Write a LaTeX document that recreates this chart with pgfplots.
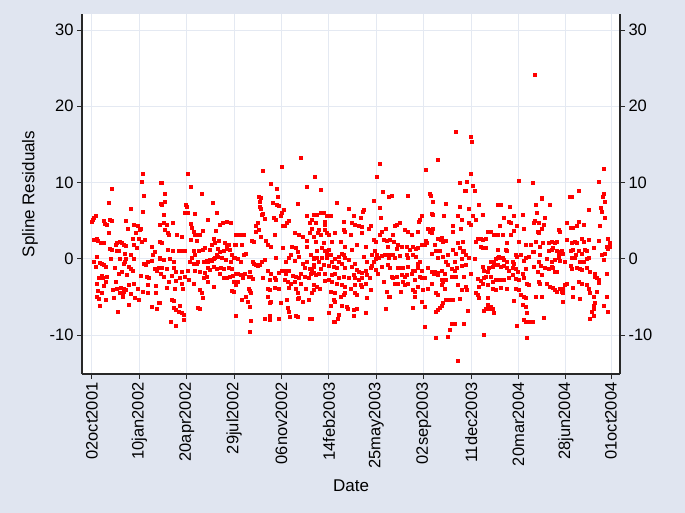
\documentclass[border=0pt]{standalone}
\usepackage{pgfplots}
\pgfplotsset{compat=1.18}
\usepackage{fontspec}
\setmainfont{Liberation Sans}
\definecolor{bgblue}{RGB}{224,229,240}
\definecolor{gridc}{RGB}{228,233,242}
\definecolor{axc}{RGB}{40,40,40}

% x = days since 02oct2001, y = spline residual
\pgfplotsset{
  resaxis/.style={
    at={(82pt,139pt)}, anchor=south west, scale only axis,
    width=538pt, height=360pt,
    xmin=-21, xmax=1114, ymin=-15.1, ymax=32.1,
    ytick={-10,0,10,20,30},
    tick align=outside, major tick length=5pt,
    tick style={axc, line width=1pt},
    axis line style={axc, line width=1.1pt},
    /pgf/number format/assume math mode=true,
    tick label style={font=\fontsize{16.5}{18}\selectfont},
  }
}

\begin{document}
\begin{tikzpicture}[x=1pt,y=1pt]
\fill[bgblue] (0,0) rectangle (685,513);
\begin{axis}[
    resaxis,
    axis background/.style={fill=white},
    axis x line*=bottom, axis y line*=left,
    xtick={0,100,200,300,400,500,600,700,800,900,1000,1095},
    xticklabels={02oct2001,10jan2002,20apr2002,29jul2002,06nov2002,14feb2003,
      25may2003,02sep2003,11dec2003,20mar2004,28jun2004,01oct2004},
    xticklabel style={rotate=90, anchor=east},
    grid=major,
    major grid style={gridc, line width=1pt},
    xlabel={Date}, ylabel={Spline Residuals},
    every axis y label/.style={at={(axis description cs:-0.0967,0.5)}, rotate=90,
      anchor=center, font=\fontsize{17}{19}\selectfont},
    every axis x label/.style={at={(axis description cs:0.5,-0.311)},
      anchor=center, font=\fontsize{17}{19}\selectfont},
  ]
  \addplot[only marks, mark=square*, mark size=1.5pt, color=red] coordinates {
    % 0 - 150
    (107,11.2) (105,10.1) (110,8.3) (42,9.2) (35,7.4) (82,6.6) (107,6.2) (146,10.0) (144,7.2)
    (8,5.7) (4,5.4) (0,4.9) (2,5.1) (24,5.0) (27,4.6) (32,4.5) (37,5.1) (42,5.0) (35,3.4)
    (72,5.0) (75,4.0) (89,4.5) (96,4.3) (92,3.4) (101,3.8) (103,4.0) (86,2.7) (99,2.6) (104,2.3)
    (112,2.5) (89,1.8) (94,1.4) (10,2.6) (13,2.4) (4,2.5) (18,2.1) (25,2.1) (53,2.1) (50,1.8)
    (58,2.3) (62,2.1) (66,1.8) (71,1.7) (38,1.3) (41,1.2) (53,1.0) (57,1.1) (69,0.7) (82,0.6)
    (126,1.6) (133,0.9) (129,0.6) (72,0) (89,0) (58,0) (39,0) (11,0.3) (4,-0.4) (8,-1.0)
    (16,-0.5) (20,-0.7) (25,-0.8) (29,-1.0) (66,-0.6) (69,-0.4) (77,-1.0) (110,-0.6) (113,-0.8)
    (118,-0.4) (127,-0.3) (132,-1.3) (136,-1.6) (143,0) (141,-1.2) (146,-1.9) (82,-1.3) (85,-1.5)
    (73,-2.1) (63,-1.7) (57,-1.9) (48,-1.1) (20,-2.2) (23,-2.5) (31,-2.4) (15,-2.5) (10,-3.2)
    (29,-3.0) (25,-3.5) (50,-3.0) (60,-3.8) (68,-3.9) (78,-3.4) (89,-3.2) (96,-3.9) (103,-2.2)
    (115,-2.3) (120,-2.5) (117,-3.4) (134,-3.5) (13,-4.2) (20,-4.5) (43,-4.1) (53,-3.9) (59,-4.5)
    (64,-4.6) (66,-4.3) (72,-4.1) (82,-4.6) (91,-5.1) (98,-5.4) (106,-4.3) (117,-4.5) (134,-4.5)
    (10,-5.0) (15,-5.2) (30,-5.4) (46,-5.1) (64,-5.0) (78,-6.0) (127,-6.3) (136,-6.6) (17,-6.1)
    (55,-6.9) (141,-5.8)
    % 150 - 305
    (202,11.1) (208,9.5) (231,8.5) (147,10.0) (154,8.5) (154,7.5) (147,7.1) (151,5.8) (198,7.1)
    (200,6.8) (196,6.0) (203,6.0) (216,5.9) (254,7.3) (264,6.1) (244,5.1) (143,4.5) (151,4.7)
    (158,4.5) (170,4.7) (154,3.8) (159,3.4) (161,3.2) (179,3.1) (189,2.9) (208,4.6) (210,4.1)
    (214,3.6) (216,3.2) (221,3.1) (228,3.1) (233,3.7) (262,3.7) (270,4.5) (276,4.8) (284,4.9)
    (293,4.8) (304,3.2) (143,2.3) (147,2.1) (208,2.5) (222,2.4) (233,1.2) (238,1.4) (256,2.6)
    (259,2.1) (268,2.4) (252,1.8) (281,2.1) (288,1.9) (284,1.6) (302,1.8) (159,1.2) (170,1.0)
    (184,1.1) (189,1.0) (196,1.0) (214,1.1) (217,0.6) (226,1.0) (249,1.2) (266,1.3) (270,0.9)
    (277,1.1) (284,1.3) (290,1.2) (295,0.5) (302,0.1) (143,0.1) (151,-0.1) (165,0) (173,-0.4)
    (210,0.2) (207,-0.4) (214,-0.6) (221,-0.7) (224,-0.4) (235,-0.4) (242,-0.3) (245,-0.4)
    (249,-0.1) (252,-0.3) (256,0) (259,0.2) (263,0.5) (266,0.3) (273,0.1) (283,-0.1) (293,-0.4)
    (300,0.2) (307,0) (147,-1.2) (158,-1.3) (172,-1.2) (177,-1.7) (189,-1.7) (203,-1.5) (217,-1.6)
    (228,-1.7) (237,-1.8) (245,-1.1) (248,-1.4) (256,-1.0) (263,-1.3) (272,-1.1) (277,-1.3)
    (288,-1.2) (295,-1.3) (151,-2.3) (161,-3.0) (168,-2.2) (177,-2.9) (186,-2.5) (189,-3.2)
    (196,-2.3) (205,-2.8) (214,-3.3) (235,-2.5) (242,-2.3) (245,-3.0) (256,-3.6) (270,-2.0)
    (277,-2.5) (284,-2.5) (291,-2.3) (297,-2.2) (300,-3.0) (295,-4.2) (298,-4.3) (158,-3.8)
    (175,-3.9) (191,-3.9) (228,-4.1) (231,-4.5) (233,-5.1) (143,-5.8) (168,-5.3) (173,-5.5)
    (172,-6.4) (177,-6.7) (182,-6.9) (186,-6.1) (189,-7.1) (194,-7.3) (194,-8.0) (166,-8.2)
    (177,-8.8) (223,-6.4) (228,-6.6)
    % 305 - 470
    (440,13.2) (400,12.1) (360,11.5) (378,9.8) (390,9.2) (452,9.5) (392,8.2) (352,8.1) (356,8.0)
    (353,7.5) (381,7.3) (390,7.1) (395,7.0) (434,7.2) (353,6.8) (355,6.6) (404,6.4) (361,5.9)
    (359,5.8) (401,6.1) (399,5.6) (383,5.4) (388,5.1) (364,5.3) (411,4.8) (415,5.0) (402,4.3)
    (406,4.4) (467,5.8) (454,5.7) (460,4.7) (464,3.9) (349,4.7) (346,4.3) (352,3.8) (345,3.5)
    (386,3.2) (307,3.2) (314,3.2) (321,3.1) (316,1.9) (304,1.9) (338,2.4) (342,2.2) (367,2.4)
    (371,1.9) (356,2.9) (378,1.6) (427,3.4) (437,3.1) (444,2.9) (459,3.4) (452,2.4) (429,1.5)
    (422,1.6) (434,0.9) (437,0.3) (402,1.4) (420,0.5) (454,1.6) (462,0.5) (467,0) (321,0.5)
    (325,0.7) (307,0) (314,-0.4) (339,-0.4) (342,-0.7) (346,-0.8) (349,-0.9) (353,-0.8) (359,-0.4)
    (364,-0.1) (387,0.2) (408,-0.4) (416,0.2) (427,-0.3) (444,-0.7) (448,-1.2) (452,-0.4)
    (459,-1.3) (464,-1.7) (467,-0.8) (304,-1.9) (307,-2.0) (314,-2.1) (318,-2.2) (323,-2.0)
    (332,-1.7) (331,-2.3) (335,-2.3) (371,-1.5) (378,-2.0) (385,-2.5) (395,-1.8) (401,-1.6)
    (406,-1.5) (409,-1.9) (416,-1.6) (423,-2.2) (430,-2.3) (437,-2.5) (441,-1.9) (448,-2.3)
    (457,-2.5) (462,-2.0) (468,-1.8) (307,-3.0) (318,-2.5) (339,-2.6) (360,-2.5) (374,-2.8)
    (388,-2.8) (406,-2.8) (413,-3.0) (420,-3.2) (427,-3.0) (441,-3.2) (304,-3.4) (331,-3.9)
    (332,-4.2) (335,-4.5) (371,-3.9) (374,-4.1) (385,-3.8) (394,-3.9) (416,-3.8) (429,-3.9)
    (434,-4.5) (437,-5.1) (450,-3.9) (464,-4.5) (457,-5.3) (325,-5.0) (328,-5.6) (332,-6.3)
    (316,-5.4) (371,-5.0) (374,-5.8) (378,-5.6) (399,-5.8) (411,-5.3) (413,-6.4) (416,-6.9)
    (434,-5.2) (444,-5.6) (335,-8.1) (333,-9.6) (364,-7.8) (374,-7.4) (375,-8.0) (395,-7.9)
    (418,-7.6) (430,-7.5) (434,-7.6) (460,-7.9) (304,-7.4)
    % 470 - 630
    (606,12.5) (601,10.8) (470,10.8) (482,9.1) (613,8.8) (627,8.2) (594,7.6) (517,7.3) (541,6.6)
    (573,6.4) (571,6.2) (606,6.7) (475,5.8) (482,6.0) (485,6.1) (489,6.0) (496,5.7) (504,5.7)
    (552,5.7) (464,5.1) (471,4.8) (491,4.9) (492,4.5) (549,4.8) (555,4.5) (563,4.3) (570,4.2)
    (568,5.4) (532,4.9) (587,4.4) (584,4.0) (610,5.4) (620,4.0) (464,4.0) (478,3.8) (477,3.4)
    (482,3.2) (491,3.8) (496,3.4) (499,3.2) (513,3.4) (531,3.8) (533,3.6) (545,3.2) (570,3.4)
    (612,3.6) (615,2.5) (608,3.2) (594,2.5) (598,2.3) (622,2.4) (468,2.9) (471,2.3) (489,2.1)
    (484,1.4) (492,1.0) (475,1.0) (499,1.2) (496,0.7) (506,2.3) (524,2.3) (534,1.6) (547,1.2)
    (559,1.8) (577,1.6) (591,0.6) (596,1.0) (601,0.6) (605,0.2) (612,0.4) (617,0.5) (625,0.6)
    (627,0.1) (468,0.1) (475,0.2) (485,0.1) (496,0.2) (478,-0.4) (503,0.5) (506,-0.4) (513,0)
    (520,0.3) (526,0.7) (531,0.6) (534,0.1) (541,-0.1) (520,-0.4) (555,-0.6) (573,0.3) (580,-0.4)
    (594,-0.4) (598,0) (468,-1.0) (464,-1.6) (482,-1.3) (489,-0.8) (499,-0.9) (510,-1.0)
    (517,-1.1) (526,-0.7) (534,-1.2) (547,-1.0) (559,-1.4) (563,-1.7) (570,-1.8) (577,-1.6)
    (587,-1.1) (591,-0.9) (598,-1.4) (612,-1.0) (471,-2.1) (478,-2.0) (492,-2.0) (499,-2.8)
    (506,-2.1) (513,-2.0) (520,-2.5) (531,-2.3) (541,-2.5) (552,-2.1) (555,-2.5) (563,-2.8)
    (570,-2.5) (580,-2.1) (585,-2.5) (603,-1.9) (615,-3.0) (468,-3.4) (475,-3.6) (480,-3.9)
    (492,-2.9) (506,-3.0) (517,-3.2) (527,-3.4) (534,-3.6) (545,-3.9) (555,-3.4) (566,-3.4)
    (577,-3.2) (587,-4.1) (468,-4.1) (503,-4.3) (513,-4.5) (524,-5.0) (531,-4.7) (534,-4.5)
    (555,-4.5) (559,-4.7) (570,-3.6) (579,-5.1) (622,-4.3) (626,-5.0) (464,-7.8) (503,-6.1)
    (499,-7.1) (510,-5.4) (513,-5.6) (520,-7.3) (527,-6.1) (538,-6.3) (540,-6.5) (552,-6.7)
    (559,-6.6) (552,-7.4) (619,-6.5) (510,-8.2) (513,-8.2) (519,-7.8) (577,-7.1)
    % 625 - 790
    (768,16.7) (730,13.0) (705,11.7) (775,10.0) (787,8.9) (632,8.3) (667,8.3) (712,8.6) (715,8.3)
    (719,7.5) (747,7.2) (716,5.9) (719,5.8) (743,5.6) (775,6.8) (772,5.6) (779,5.1) (695,5.6)
    (691,5.1) (689,4.9) (761,4.4) (649,4.7) (642,4.5) (639,4.3) (660,3.8) (667,3.5) (675,3.2)
    (687,3.5) (709,3.9) (712,3.6) (716,3.8) (719,4.0) (717,3.4) (761,3.6) (777,4.0) (635,3.2)
    (628,2.5) (637,2.3) (624,1.6) (646,1.8) (642,1.3) (654,1.6) (663,1.6) (670,1.2) (677,1.6)
    (684,1.3) (688,1.5) (705,2.4) (707,2.1) (703,1.8) (730,2.7) (737,2.8) (735,2.5) (740,2.3)
    (747,2.4) (772,2.1) (782,2.3) (775,1.4) (768,0.7) (695,1.8) (723,1.8) (726,1.0) (733,1.0)
    (761,1.2) (628,0.6) (635,0.5) (639,0.1) (649,0.4) (663,0.6) (667,0.2) (677,0.6) (684,0.3)
    (691,-0.4) (688,-0.6) (716,0.7) (730,0.1) (740,0.3) (747,-0.4) (751,0.6) (765,-0.4) (779,0)
    (782,0.9) (624,-0.8) (628,-1.1) (646,-1.2) (649,-1.2) (653,-1.1) (656,-1.2) (667,-1.0)
    (677,-1.5) (681,-1.6) (688,-1.1) (695,-1.5) (709,-1.2) (723,-1.7) (730,-1.8) (737,-1.5)
    (744,-1.9) (751,-0.8) (758,-1.3) (765,-1.5) (770,-1.2) (779,-0.9) (635,-2.5) (632,-2.3)
    (642,-2.4) (653,-2.1) (660,-2.3) (663,-2.1) (675,-2.0) (681,-2.8) (691,-2.3) (695,-2.5)
    (702,-2.5) (716,-1.7) (721,-2.0) (726,-1.9) (730,-2.1) (737,-2.8) (747,-2.7) (758,-2.3)
    (768,-2.3) (639,-3.2) (646,-3.2) (651,-4.3) (656,-3.0) (660,-3.4) (667,-3.2) (677,-4.1)
    (681,-4.3) (688,-3.6) (698,-4.1) (709,-3.9) (716,-3.2) (726,-4.5) (737,-3.4) (740,-3.0)
    (744,-3.9) (772,-3.4) (779,-4.1) (628,-5.0) (681,-5.0) (695,-5.6) (730,-4.7) (730,-6.7)
    (733,-6.4) (737,-6.1) (740,-5.8) (747,-5.4) (754,-5.4) (761,-5.3) (775,-5.2) (677,-6.4)
    (703,-6.3) (726,-6.9) (703,-8.9) (726,-10.4) (751,-10.2) (754,-9.3) (758,-8.5) (772,-13.3)
    (765,-8.5)
    % 785 - 950
    (935,24.2) (799,16.0) (802,15.4) (800,11.1) (791,10.1) (788,8.9) (804,9.6) (807,8.9) (901,10.3)
    (929,10.0) (936,7.1) (938,6.1) (934,5.0) (931,4.8) (943,4.7) (941,3.6) (948,8.0) (795,6.6)
    (816,7.1) (856,7.1) (862,7.1) (882,6.8) (804,5.6) (809,5.1) (795,4.7) (800,4.5) (824,5.8)
    (868,5.4) (880,4.9) (883,4.7) (890,5.7) (897,4.3) (908,5.8) (910,4.0) (943,3.4) (936,2.3)
    (813,2.7) (816,2.6) (820,2.6) (824,2.5) (830,2.6) (809,2.2) (834,3.6) (841,3.5) (848,3.2)
    (855,3.1) (861,4.3) (866,3.2) (875,2.1) (889,3.7) (883,3.1) (901,2.3) (915,1.8) (925,1.8)
    (929,0.9) (932,0.9) (945,1.6) (820,1.6) (824,1.4) (830,1.4) (855,1.2) (873,1.2) (876,1.0)
    (894,0.6) (897,0.3) (904,0.5) (915,0.1) (922,0.3) (785,1.0) (788,0.5) (795,0.2) (807,0)
    (841,-0.4) (848,-0.4) (852,0) (855,0.2) (859,0.3) (862,0.1) (866,0.2) (869,-0.1) (876,-0.4)
    (887,-0.4) (890,-0.6) (911,-0.3) (943,-0.4) (788,-0.8) (799,-1.9) (824,-1.0) (827,-1.6)
    (834,-1.7) (838,-1.1) (845,-1.0) (848,-0.8) (855,-0.8) (862,-1.0) (869,-0.9) (876,-1.1)
    (880,-1.5) (887,-1.2) (894,-1.3) (899,-1.7) (908,-2.0) (915,-1.3) (932,-1.0) (940,-1.7)
    (947,-0.9) (785,-2.3) (813,-2.6) (820,-2.9) (827,-2.5) (830,-2.3) (841,-2.3) (845,-3.0)
    (852,-2.8) (855,-2.8) (862,-2.8) (869,-2.8) (880,-2.5) (887,-2.1) (894,-2.6) (901,-2.8)
    (911,-2.5) (918,-3.2) (922,-3.4) (943,-3.0) (788,-3.6) (791,-4.1) (816,-3.6) (824,-3.3)
    (834,-3.4) (845,-3.9) (852,-4.1) (862,-3.8) (876,-3.9) (894,-3.9) (901,-4.1) (904,-4.7)
    (911,-5.0) (915,-5.1) (936,-5.0) (809,-4.5) (813,-4.7) (816,-5.1) (834,-5.1) (834,-6.0)
    (838,-6.6) (841,-6.3) (845,-6.5) (827,-6.8) (830,-6.6) (848,-7.1) (890,-5.5) (908,-6.0)
    (915,-6.3) (918,-7.1) (911,-8.0) (915,-8.2) (922,-8.2) (929,-8.2) (785,-8.5) (792,-6.8)
    (897,-8.8) (918,-10.4) (827,-9.9)
    % 945 - 1095
    (1080,11.8) (1070,10.1) (1080,8.6) (1077,8.2) (1082,7.5) (1026,8.9) (1012,8.2) (1007,8.1)
    (949,7.9) (966,7.1) (1049,6.4) (1073,6.7) (1075,6.2) (1082,5.4) (956,5.4) (952,4.5) (949,4.0)
    (984,3.8) (986,3.6) (1002,4.8) (1015,4.1) (1022,4.3) (1026,4.9) (1037,4.5) (1009,4.1)
    (1072,4.3) (1089,2.6) (1093,2.1) (1086,1.6) (1089,1.3) (1082,0.7) (1068,2.4) (1058,1.5)
    (1047,2.5) (1033,2.6) (1037,2.3) (1019,2.2) (1022,2.1) (1012,2.1) (1002,2.5) (980,2.3)
    (977,2.1) (970,2.3) (963,2.1) (951,2.1) (945,1.6) (963,1.0) (970,1.2) (973,1.5) (980,1.0)
    (984,0.5) (987,0.9) (991,1.1) (994,0.7) (1009,1.0) (1015,1.2) (1026,1.1) (1040,1.2)
    (1044,1.0) (1033,0.7) (1021,0.6) (945,0.5) (959,0) (970,-0.4) (977,-0.1) (984,0.1)
    (987,-0.3) (998,-0.4) (1012,0.2) (1019,0.1) (1030,-0.4) (1037,-0.4) (1044,0) (1047,0.1)
    (1075,0.5) (1080,-0.1) (1093,1.6) (956,-1.1) (963,-1.3) (970,-1.0) (973,-1.2) (977,-1.7)
    (980,-1.7) (1009,-0.9) (1012,-1.3) (1022,-1.2) (1030,-1.3) (1033,-1.4) (1044,-1.2)
    (1051,-1.7) (1061,-2.0) (1065,-2.5) (1068,-2.8) (1070,-3.1) (1061,-2.3) (1086,-2.0)
    (949,-2.1) (945,-3.2) (959,-3.3) (966,-3.6) (973,-3.8) (977,-4.1) (980,-4.3) (987,-3.9)
    (991,-4.3) (994,-3.9) (998,-3.4) (1002,-3.2) (1015,-3.8) (1026,-3.0) (1033,-3.2) (1044,-3.4)
    (1047,-3.9) (1051,-4.5) (1058,-5.0) (1065,-4.3) (1086,-5.0) (949,-5.0) (994,-4.5)
    (994,-5.6) (1015,-5.0) (1030,-5.2) (1061,-5.8) (1059,-6.1) (1058,-6.5) (1054,-6.9)
    (1051,-7.8) (1079,-6.1) (1089,-6.9) (954,-7.7) (1058,-7.4)
  };
\end{axis}
% right-hand y axis
\begin{axis}[
    resaxis,
    axis y line*=right, axis x line=none,
    yticklabel pos=right,
  ]
  \addplot[draw=none] coordinates {(0,0)};
\end{axis}
\end{tikzpicture}
\end{document}
